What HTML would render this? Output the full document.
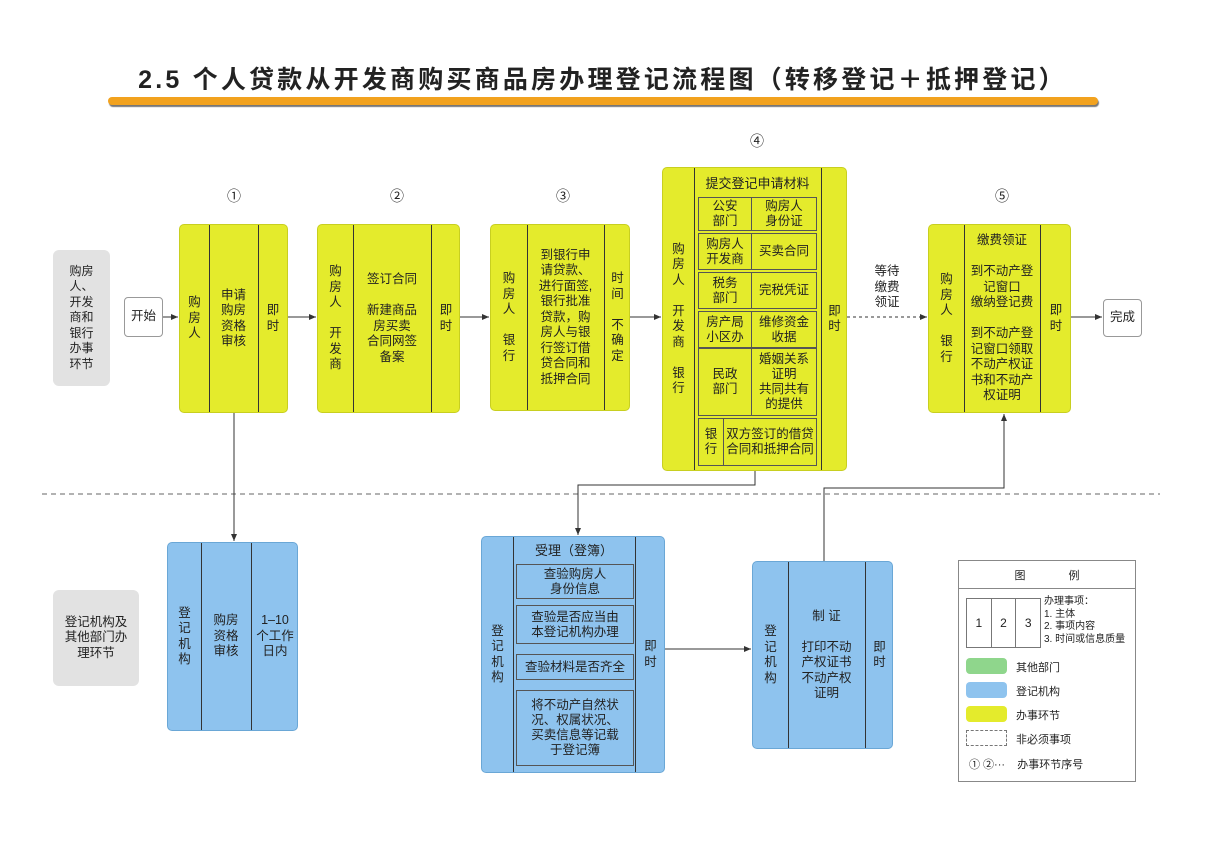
<!DOCTYPE html>
<html><head><meta charset="utf-8"><style>
body{margin:0;width:1205px;height:859px;background:#fff;position:relative;overflow:hidden;font-family:"Liberation Sans","Noto Sans CJK SC",sans-serif;color:#222}
.a{position:absolute;box-sizing:border-box}
.y{background:#e4eb2c;border:1px solid #c8cf20;border-radius:5px}
.b{background:#8ec3ee;border:1px solid #6aa7d6;border-radius:5px}
.g{background:#e2e2e2;border-radius:6px}
.v{position:absolute;top:0;bottom:0;border-left:1px solid #333}
.t{position:absolute;display:flex;align-items:center;justify-content:center;text-align:center;font-size:12.5px;line-height:15.5px}
.c{box-sizing:border-box;position:absolute;border:1px solid #555;display:flex;align-items:center;justify-content:center;text-align:center;font-size:12.5px;line-height:15px}
.n{position:absolute;font-size:14px;transform:translateX(-50%)}
</style></head><body>
<div class="a" style="left:0;right:0;top:60px;text-align:center;font-size:25px;font-weight:bold;letter-spacing:3.2px;color:#222">2.5 个人贷款从开发商购买商品房办理登记流程图（转移登记＋抵押登记）</div>
<div class="a" style="left:108px;top:97px;width:990px;height:8px;background:#f2a21e;border-radius:4px;box-shadow:1px 2px 1px #777"></div>

<svg class="a" style="left:0;top:0" width="1205" height="859">
<defs><marker id="m" markerWidth="8" markerHeight="8" refX="7" refY="4" orient="auto"><path d="M0,1 L7,4 L0,7z" fill="#333"/></marker></defs>
<g stroke="#333" stroke-width="1" fill="none">
<line x1="42" y1="494" x2="1160" y2="494" stroke="#666" stroke-dasharray="5,4"/>
<line x1="163" y1="317" x2="178" y2="317" marker-end="url(#m)"/>
<line x1="288" y1="317" x2="316" y2="317" marker-end="url(#m)"/>
<line x1="460" y1="317" x2="489" y2="317" marker-end="url(#m)"/>
<line x1="630" y1="317" x2="661" y2="317" marker-end="url(#m)"/>
<line x1="847" y1="317" x2="927" y2="317" stroke-dasharray="3,3" marker-end="url(#m)"/>
<line x1="1071" y1="317" x2="1102" y2="317" marker-end="url(#m)"/>
<line x1="234" y1="413" x2="234" y2="541" marker-end="url(#m)"/>
<polyline points="755,471 755,485 578,485 578,535" marker-end="url(#m)"/>
<line x1="665" y1="649" x2="751" y2="649" marker-end="url(#m)"/>
<polyline points="824,561 824,488 1004,488 1004,414" marker-end="url(#m)"/>
</g></svg>

<div class="n" style="left:234px;top:186px">①</div>
<div class="n" style="left:397px;top:186px">②</div>
<div class="n" style="left:563px;top:186px">③</div>
<div class="n" style="left:757px;top:131px">④</div>
<div class="n" style="left:1002px;top:186px">⑤</div>

<div class="a g t" style="left:53px;top:250px;width:57px;height:136px;font-size:12px">购房<br>人、<br>开发<br>商和<br>银行<br>办事<br>环节</div>
<div class="a t" style="left:124px;top:297px;width:39px;height:40px;border:1px solid #999;border-radius:4px;background:#fff">开始</div>
<div class="a t" style="left:1103px;top:299px;width:39px;height:38px;border:1px solid #999;border-radius:4px;background:#fff">完成</div>
<div class="a t" style="left:862px;top:265px;width:50px;height:45px">等待<br>缴费<br>领证</div>

<div class="a y" style="left:179px;top:224px;width:109px;height:189px">
<div class="v" style="left:29px"></div><div class="v" style="left:78px"></div>
<div class="t" style="left:0;width:29px;top:0;bottom:0">购<br>房<br>人</div>
<div class="t" style="left:29px;width:49px;top:0;bottom:0">申请<br>购房<br>资格<br>审核</div>
<div class="t" style="left:78px;width:30px;top:0;bottom:0">即<br>时</div></div>
<div class="a y" style="left:317px;top:224px;width:143px;height:189px">
<div class="v" style="left:35px"></div><div class="v" style="left:113px"></div>
<div class="t" style="left:0;width:35px;top:0;bottom:0">购<br>房<br>人<br><br>开<br>发<br>商</div>
<div class="t" style="left:35px;width:78px;top:0;bottom:0">签订合同<br><br>新建商品<br>房买卖<br>合同网签<br>备案</div>
<div class="t" style="left:113px;width:30px;top:0;bottom:0">即<br>时</div></div>
<div class="a y" style="left:490px;top:224px;width:140px;height:187px">
<div class="v" style="left:36px"></div><div class="v" style="left:113px"></div>
<div class="t" style="left:0;width:36px;top:0;bottom:0">购<br>房<br>人<br><br>银<br>行</div>
<div class="t" style="left:36px;width:77px;top:0;bottom:0">到银行申<br>请贷款、<br>进行面签,<br>银行批准<br>贷款，购<br>房人与银<br>行签订借<br>贷合同和<br>抵押合同</div>
<div class="t" style="left:113px;width:27px;top:0;bottom:0">时<br>间<br><br>不<br>确<br>定</div></div>
<div class="a y" style="left:662px;top:167px;width:185px;height:304px">
<div class="v" style="left:31px"></div><div class="v" style="left:158px"></div>
<div class="t" style="left:0;width:31px;top:0;bottom:0">购<br>房<br>人<br><br>开<br>发<br>商<br><br>银<br>行</div>
<div class="t" style="left:158px;width:27px;top:0;bottom:0">即<br>时</div>
<div class="t" style="left:31px;width:127px;top:3px;height:26px;font-size:13px">提交登记申请材料</div>
<div class="c" style="left:35px;top:29px;width:54px;height:34px">公安<br>部门</div><div class="c" style="left:88px;top:29px;width:66px;height:34px">购房人<br>身份证</div>
<div class="c" style="left:35px;top:65px;width:54px;height:37px">购房人<br>开发商</div><div class="c" style="left:88px;top:65px;width:66px;height:37px">买卖合同</div>
<div class="c" style="left:35px;top:104px;width:54px;height:37px">税务<br>部门</div><div class="c" style="left:88px;top:104px;width:66px;height:37px">完税凭证</div>
<div class="c" style="left:35px;top:143px;width:54px;height:37px">房产局<br>小区办</div><div class="c" style="left:88px;top:143px;width:66px;height:37px">维修资金<br>收据</div>
<div class="c" style="left:35px;top:180px;width:54px;height:68px">民政<br>部门</div><div class="c" style="left:88px;top:180px;width:66px;height:68px">婚姻关系<br>证明<br>共同共有<br>的提供</div>
<div class="c" style="left:35px;top:250px;width:119px;height:48px;justify-content:flex-start"><div style="width:24px;border-right:1px solid #555;height:100%;display:flex;align-items:center;justify-content:center">银<br>行</div><div style="flex:1">双方签订的借贷<br>合同和抵押合同</div></div>
</div>
<div class="a y" style="left:928px;top:224px;width:143px;height:189px">
<div class="v" style="left:35px"></div><div class="v" style="left:111px"></div>
<div class="t" style="left:0;width:35px;top:0;bottom:0">购<br>房<br>人<br><br>银<br>行</div>
<div class="t" style="left:35px;width:76px;top:0;bottom:0">缴费领证<br><br>到不动产登<br>记窗口<br>缴纳登记费<br><br>到不动产登<br>记窗口领取<br>不动产权证<br>书和不动产<br>权证明</div>
<div class="t" style="left:111px;width:32px;top:0;bottom:0">即<br>时</div></div>

<div class="a g t" style="left:53px;top:590px;width:86px;height:96px">登记机构及<br>其他部门办<br>理环节</div>
<div class="a b" style="left:167px;top:542px;width:131px;height:189px">
<div class="v" style="left:33px"></div><div class="v" style="left:83px"></div>
<div class="t" style="left:0;width:33px;top:0;bottom:0">登<br>记<br>机<br>构</div>
<div class="t" style="left:33px;width:50px;top:0;bottom:0">购房<br>资格<br>审核</div>
<div class="t" style="left:83px;width:48px;top:0;bottom:0">1–10<br>个工作<br>日内</div></div>
<div class="a b" style="left:481px;top:536px;width:184px;height:237px">
<div class="v" style="left:31px"></div><div class="v" style="left:153px"></div>
<div class="t" style="left:0;width:31px;top:0;bottom:0">登<br>记<br>机<br>构</div>
<div class="t" style="left:153px;width:31px;top:0;bottom:0">即<br>时</div>
<div class="t" style="left:31px;width:122px;top:2px;height:24px;font-size:13px">受理（登簿）</div>
<div class="c" style="left:34px;top:27px;width:118px;height:35px">查验购房人<br>身份信息</div>
<div class="c" style="left:34px;top:68px;width:118px;height:39px">查验是否应当由<br>本登记机构办理</div>
<div class="c" style="left:34px;top:117px;width:118px;height:26px">查验材料是否齐全</div>
<div class="c" style="left:34px;top:153px;width:118px;height:76px">将不动产自然状<br>况、权属状况、<br>买卖信息等记载<br>于登记簿</div></div>
<div class="a b" style="left:752px;top:561px;width:141px;height:188px">
<div class="v" style="left:35px"></div><div class="v" style="left:112px"></div>
<div class="t" style="left:0;width:35px;top:0;bottom:0">登<br>记<br>机<br>构</div>
<div class="t" style="left:35px;width:77px;top:0;bottom:0">制 证<br><br>打印不动<br>产权证书<br>不动产权<br>证明</div>
<div class="t" style="left:112px;width:29px;top:0;bottom:0">即<br>时</div></div>

<div class="a" style="left:958px;top:560px;width:178px;height:222px;border:1px solid #888;font-size:11px">
<div style="height:27px;border-bottom:1px solid #888;display:flex;align-items:center;justify-content:center;word-spacing:40px">图 例</div>
<div class="a" style="left:7px;top:37px;width:75px;height:50px;border:1px solid #777;display:flex;font-size:12px"><div style="flex:1;border-right:1px solid #777;display:flex;align-items:center;justify-content:center">1</div><div style="flex:1;border-right:1px solid #777;display:flex;align-items:center;justify-content:center">2</div><div style="flex:1;display:flex;align-items:center;justify-content:center">3</div></div>
<div class="a" style="left:85px;top:35px;font-size:10px;line-height:12.5px">办理事项：<br>1. 主体<br>2. 事项内容<br>3. 时间或信息质量</div>
<div class="a" style="left:7px;top:97px;width:41px;height:16px;background:#8fd68c;border-radius:4px"></div><div class="a" style="left:57px;top:98px">其他部门</div>
<div class="a" style="left:7px;top:121px;width:41px;height:16px;background:#8ec3ee;border-radius:4px"></div><div class="a" style="left:57px;top:122px">登记机构</div>
<div class="a" style="left:7px;top:145px;width:41px;height:16px;background:#e4eb2c;border-radius:4px"></div><div class="a" style="left:57px;top:146px">办事环节</div>
<div class="a" style="left:7px;top:169px;width:41px;height:16px;border:1px dashed #777"></div><div class="a" style="left:57px;top:170px">非必须事项</div>
<div class="a" style="left:10px;top:195px">① ②···&nbsp;&nbsp;&nbsp;&nbsp;办事环节序号</div>
</div>
</body></html>
